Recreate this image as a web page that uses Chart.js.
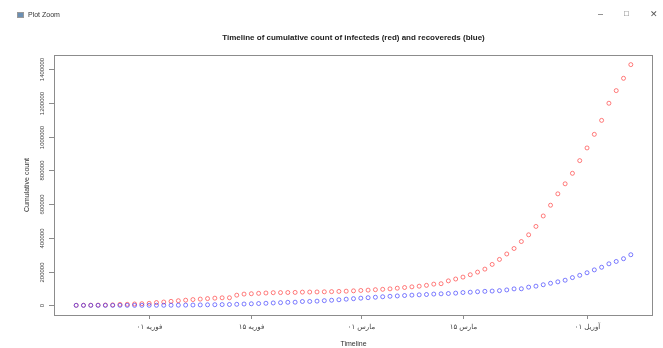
<!DOCTYPE html>
<html>
<head>
<meta charset="utf-8">
<script src="https://cdn.jsdelivr.net/npm/chart.js@4"></script>
<style>
  html, body { margin: 0; padding: 0; background: #fff; }
  #wrap { position: relative; width: 663px; height: 348px; overflow: hidden; }
  #bar { position: absolute; left: 0; top: 0; width: 663px; height: 28px;
         font: 7px "Liberation Sans", "DejaVu Sans", sans-serif; color: #333; }
  #bar .icon { position: absolute; left: 17px; top: 12px; width: 7px; height: 6px;
               background: #6b8fb3; border: 1px solid #999; box-sizing: border-box; }
  #bar .name { position: absolute; left: 28px; top: 11px; }
  #bar .btn  { position: absolute; top: 9px; font-size: 9px; color: #555; }
  canvas { position: absolute; left: 0; top: 0; }
</style>
</head>
<body>
<div id="wrap">
  <canvas id="chart" width="663" height="348"></canvas>
  <div id="bar">
    <span class="icon"></span><span class="name">Plot Zoom</span>
    <span class="btn" style="left:598px">&#8211;</span>
    <span class="btn" style="left:624px;font-size:8px">&#9633;</span>
    <span class="btn" style="left:650px">&#10005;</span>
  </div>
</div>
<script>
// ---- Data: daily cumulative counts, 22 Jan .. 7 Apr (day index 0..76) ----

const INFECTED = [
  555, 654, 941, 1434, 2118, 2927, 5578, 6166, 8234, 9927,
  12038, 16787, 19881, 23892, 27635, 30794, 34391, 37120, 40150, 42762,
  44802, 45221, 60368, 66885, 69030, 71224, 73258, 75136, 75639, 76197,
  76819, 78572, 78958, 79561, 80406, 81388, 82746, 84112, 86011, 88369,
  90306, 92840, 95120, 97886, 101801, 105847, 109821, 113590, 118620, 125875,
  128352, 145205, 156101, 167454, 181574, 197102, 214821, 242570, 272208, 304507,
  336953, 378235, 418045, 467653, 529591, 593291, 660706, 720117, 782365, 857487,
  932605, 1013157, 1095917, 1197405, 1272115, 1345048, 1426096,
];

const RECOVERED = [
  28, 30, 36, 39, 52, 61, 107, 126, 143, 222,
  284, 472, 623, 852, 1124, 1487, 2011, 2616, 3244, 3946,
  4683, 5150, 6295, 8058, 9395, 10865, 12583, 14352, 16121, 18177,
  18890, 22886, 23394, 25227, 27905, 30384, 33277, 36711, 39782, 42716,
  45602, 48228, 51170, 53796, 55865, 58358, 60694, 62494, 64404, 67003,
  68324, 70251, 72624, 76034, 78088, 80840, 83207, 84854, 87256, 91499,
  97704, 98334, 107980, 113787, 122150, 130915, 139415, 149082, 164566, 178034,
  193177, 210263, 225796, 246152, 260012, 276515, 300054,
];

const X_TICK_DAYS   = [10, 24, 39, 53, 70];
const X_TICK_LABELS = ['فوریه ۰۱', 'فوریه ۱۵', 'مارس ۰۱', 'مارس ۱۵', 'آوریل ۰۱'];
const Y_TICKS       = [0, 200000, 400000, 600000, 800000, 1000000, 1200000, 1400000];

const TITLE   = 'Timeline of cumulative count of infecteds (red) and recovereds (blue)';
const X_TITLE = 'Timeline';
const Y_TITLE = 'Cumulative count';

const FONT = '"Liberation Sans", "DejaVu Sans", sans-serif';

// R-style 4% range extension around the data
function padRange(lo, hi) {
  const d = (hi - lo) * 0.04;
  return [lo - d, hi + d];
}

const [xMin, xMax] = padRange(0, INFECTED.length - 1);
const [yMin, yMax] = padRange(Math.min(...RECOVERED), Math.max(...INFECTED));

const toPoints = arr => arr.map((v, i) => ({ x: i, y: v }));

// Draws the base-graphics style frame, ticks and labels
const rFrame = {
  id: 'rFrame',
  afterDraw(chart) {
    const { ctx, chartArea: a, scales: { x, y } } = chart;
    ctx.save();

    // box
    ctx.strokeStyle = '#8c8c8c';
    ctx.lineWidth = 1;
    ctx.strokeRect(a.left + 0.5, a.top + 0.5, a.right - a.left - 1, a.bottom - a.top);

    // x ticks + labels
    ctx.fillStyle = '#444';
    ctx.font = `7px ${FONT}`;
    ctx.textAlign = 'center';
    ctx.textBaseline = 'middle';
    X_TICK_DAYS.forEach((d, i) => {
      const px = Math.round(x.getPixelForValue(d)) + 0.5;
      ctx.beginPath();
      ctx.moveTo(px, a.bottom);
      ctx.lineTo(px, a.bottom + 4);
      ctx.stroke();
      ctx.fillText(X_TICK_LABELS[i], px, a.bottom + 12);
    });

    // y ticks + rotated labels
    ctx.font = `6px ${FONT}`;
    Y_TICKS.forEach(v => {
      const py = Math.round(y.getPixelForValue(v)) + 0.5;
      ctx.beginPath();
      ctx.moveTo(a.left, py);
      ctx.lineTo(a.left - 5, py);
      ctx.stroke();
      ctx.save();
      ctx.translate(42, py);
      ctx.rotate(-Math.PI / 2);
      ctx.fillText(String(v), 0, 0);
      ctx.restore();
    });

    // titles
    ctx.fillStyle = '#222';
    ctx.font = `bold 8px ${FONT}`;
    ctx.fillText(TITLE, (a.left + a.right) / 2, 38);

    ctx.fillStyle = '#333';
    ctx.font = `7px ${FONT}`;
    ctx.fillText(X_TITLE, (a.left + a.right) / 2, 344);

    ctx.save();
    ctx.translate(27, (a.top + a.bottom) / 2);
    ctx.rotate(-Math.PI / 2);
    ctx.fillText(Y_TITLE, 0, 0);
    ctx.restore();

    ctx.restore();
  },
};

new Chart(document.getElementById('chart'), {
  type: 'scatter',
  data: {
    datasets: [
      {
        label:           'Recovered',
        data:            toPoints(RECOVERED),
        borderColor:     'rgba(40,40,255,0.6)',
        backgroundColor: 'rgba(0,0,0,0)',
        pointRadius:     2,
        borderWidth:     1,
        order:           0,
      },
      {
        label:           'Infected',
        data:            toPoints(INFECTED),
        borderColor:     'rgba(255,40,40,0.6)',
        backgroundColor: 'rgba(0,0,0,0)',
        pointRadius:     2,
        borderWidth:     1,
        order:           1,
      },
    ],
  },
  options: {
    responsive: false,
    animation:  false,
    layout: { padding: { left: 54, right: 10, top: 55, bottom: 33 } },
    plugins: {
      legend:  { display: false },
      tooltip: { enabled: false },
    },
    scales: {
      x: { type: 'linear', min: xMin, max: xMax, display: false },
      y: { type: 'linear', min: yMin, max: yMax, display: false },
    },
  },
  plugins: [rFrame],
});
</script>
</body>
</html>
